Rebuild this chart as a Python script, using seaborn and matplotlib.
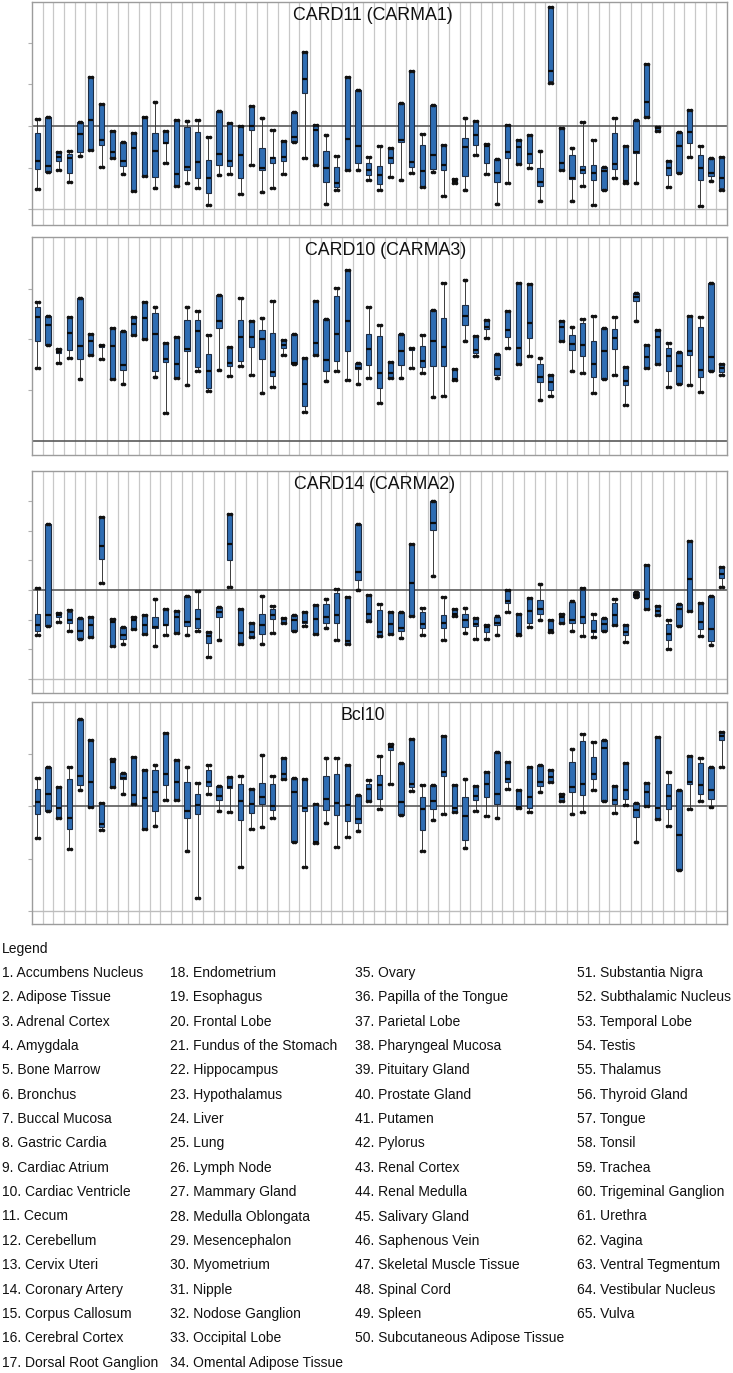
import numpy as np
import pandas as pd
import matplotlib
matplotlib.use("Agg")
import matplotlib.pyplot as plt
import seaborn as sns

# ---------------- data ----------------
tissues = [
    "Accumbens Nucleus", "Adipose Tissue", "Adrenal Cortex", "Amygdala", "Bone Marrow",
    "Bronchus", "Buccal Mucosa", "Gastric Cardia", "Cardiac Atrium", "Cardiac Ventricle",
    "Cecum", "Cerebellum", "Cervix Uteri", "Coronary Artery", "Corpus Callosum",
    "Cerebral Cortex", "Dorsal Root Ganglion", "Endometrium", "Esophagus", "Frontal Lobe",
    "Fundus of the Stomach", "Hippocampus", "Hypothalamus", "Liver", "Lung",
    "Lymph Node", "Mammary Gland", "Medulla Oblongata", "Mesencephalon", "Myometrium",
    "Nipple", "Nodose Ganglion", "Occipital Lobe", "Omental Adipose Tissue", "Ovary",
    "Papilla of the Tongue", "Parietal Lobe", "Pharyngeal Mucosa", "Pituitary Gland", "Prostate Gland",
    "Putamen", "Pylorus", "Renal Cortex", "Renal Medulla", "Salivary Gland",
    "Saphenous Vein", "Skeletal Muscle Tissue", "Spinal Cord", "Spleen", "Subcutaneous Adipose Tissue",
    "Substantia Nigra", "Subthalamic Nucleus", "Temporal Lobe", "Testis", "Thalamus",
    "Thyroid Gland", "Tongue", "Tonsil", "Trachea", "Trigeminal Ganglion",
    "Urethra", "Vagina", "Ventral Tegmentum", "Vestibular Nucleus", "Vulva",
]

panel_titles = ["CARD11 (CARMA1)", "CARD10 (CARMA3)", "CARD14 (CARMA2)", "Bcl10"]

# CARD11 (CARMA1): whisker low, Q1, median, Q3, whisker high
card11_lo = [-1.51, -1.11, -1.06, -1.34, -0.72, -0.58, -0.98, -0.77, -1.15, -1.56,
             -1.20, -1.48, -0.90, -1.44, -1.36, -1.50, -1.89, -1.18, -1.15, -1.63,
             -0.94, -1.58, -1.50, -1.15, -0.38, -0.78, -0.93, -1.87, -1.54, -1.06,
             -1.07, -1.30, -1.55, -1.22, -1.30, -1.12, -1.47, -1.10, -1.68, -1.36,
             -1.54, -0.70, -1.15, -1.87, -1.36, -0.91, -1.02, -1.81, 1.04, -1.07,
             -1.81, -1.44, -1.90, -1.55, -1.26, -1.36, -1.38, 0.22, -0.13, -1.46,
             -1.14, -0.74, -1.92, -1.33, -1.54]
card11_q1 = [-1.04, -1.11, -0.85, -1.12, -0.62, -0.58, -0.46, -0.77, -0.96, -1.56,
             -1.20, -1.22, -0.42, -1.44, -1.06, -1.24, -1.60, -0.93, -0.96, -1.26,
             -0.10, -1.06, -0.90, -0.85, -0.38, 0.80, -0.93, -1.34, -1.47, -1.06,
             -0.90, -1.18, -1.40, -0.88, -0.38, -0.98, -1.47, -1.04, -1.06, -1.36,
             -1.20, -0.46, -0.90, -1.34, -0.77, -0.91, -0.90, -1.44, 1.09, -1.07,
             -1.28, -1.12, -1.30, -1.55, -1.04, -1.36, -0.64, 0.22, -0.13, -1.18,
             -1.14, -0.40, -1.31, -1.20, -1.50]
card11_med = [-0.83, -0.96, -0.74, -0.78, -0.19, 0.14, -0.34, -0.62, -0.83, -0.53,
              0.19, -0.59, -0.40, -1.15, -0.98, -0.86, -1.26, -0.67, -0.83, -0.70,
              0.00, -1.02, -0.78, -0.75, -0.26, 1.14, -0.10, -1.00, -1.38, -0.32,
              -0.48, -1.06, -1.18, -0.78, -0.34, -0.86, -1.09, -0.69, -0.93, -1.32,
              -0.51, -0.21, -0.48, -1.12, -0.62, -0.50, -0.67, -1.34, 1.33, -0.90,
              -1.25, -1.07, -1.14, -1.09, -0.91, -1.33, -0.62, 0.58, -0.06, -1.02,
              -0.48, -0.14, -1.00, -1.14, -1.26]
card11_q3 = [-0.18, 0.22, -0.64, -0.67, 0.10, 1.17, 0.53, -0.12, -0.38, -0.16,
             0.21, -0.16, -0.12, 0.14, -0.02, -0.14, -0.82, 0.36, 0.06, 0.01,
             0.49, -0.54, -0.74, -0.35, 0.34, 1.77, 0.03, -0.59, -0.99, 1.18,
             0.86, -0.90, -0.95, -0.54, 0.56, 1.33, -0.46, 0.50, -0.46, -1.28,
             -0.30, 0.11, -0.43, -0.80, 0.02, -0.34, -0.21, -1.02, 2.85, -0.06,
             -0.69, -0.95, -0.94, -0.99, -0.16, -0.47, 0.14, 1.50, -0.02, -0.84,
             -0.14, 0.38, -0.70, -0.77, -0.74]
card11_hi = [0.16, 0.22, -0.62, -0.60, 0.10, 1.17, 0.53, -0.12, -0.38, -0.16,
             0.21, 0.58, -0.12, 0.14, 0.12, 0.14, -0.27, 0.36, 0.06, 0.01,
             0.49, 0.18, -0.10, -0.35, 0.34, 1.77, 0.03, -0.21, -0.72, 1.18,
             0.86, -0.74, -0.48, -0.54, 0.56, 1.33, -0.19, 0.50, -0.46, -1.28,
             0.18, 0.11, -0.43, -0.80, 0.02, -0.34, -0.21, -0.60, 2.85, -0.06,
             -0.54, 0.10, -0.34, -0.99, 0.19, -0.47, 0.14, 1.50, -0.02, -0.84,
             -0.14, 0.38, -0.48, -0.77, -0.74]

# CARD10 (CARMA3)
card10_lo = [-0.56, -0.11, -0.46, -0.36, -0.79, -0.30, -0.39, -0.78, -0.87, 0.09,
             0.00, -0.74, -1.46, -0.77, -0.89, -0.62, -1.01, -0.61, -0.72, -0.53,
             -0.71, -1.05, -0.93, -0.30, -0.49, -1.43, -0.30, -0.82, -0.62, -0.80,
             -0.87, -0.77, -1.25, -0.76, -0.76, -0.57, -0.66, -1.13, -1.11, -0.80,
             -0.04, -0.33, 0.02, -0.76, -0.16, -0.49, -0.33, -1.20, -1.12, -0.04,
             -0.63, -0.66, -1.05, -0.78, -0.70, -1.30, 0.36, -0.57, -0.49, -0.93,
             -0.87, -0.90, -1.04, -0.63, -0.70]
card10_q1 = [-0.04, -0.11, -0.26, -0.21, -0.39, -0.30, -0.14, -0.78, -0.60, 0.09,
             0.00, -0.63, -0.44, -0.77, -0.22, -0.54, -0.95, 0.23, -0.52, -0.42,
             -0.14, -0.39, -0.72, -0.16, -0.49, -1.31, -0.30, -0.62, -0.42, -0.22,
             -0.58, -0.51, -0.96, -0.76, -0.50, -0.20, -0.54, -0.53, -0.52, -0.80,
             0.28, -0.26, 0.21, -0.70, 0.04, -0.49, 0.03, -0.84, -1.00, -0.04,
             -0.20, -0.33, -0.74, -0.78, -0.18, -0.90, 0.76, -0.57, -0.49, -0.62,
             -0.87, -0.31, -0.74, -0.63, -0.64]
card10_med = [0.45, 0.29, -0.25, 0.13, -0.13, -0.04, -0.13, -0.13, -0.51, 0.30,
              0.42, 0.11, -0.38, -0.49, -0.18, 0.16, -0.63, 0.37, -0.47, 0.05,
              0.05, 0.00, -0.64, -0.12, -0.47, -0.88, -0.08, -0.41, 0.11, 0.37,
              -0.57, -0.18, -0.66, -0.67, -0.22, -0.18, -0.43, -0.03, -0.14, -0.79,
              0.46, -0.21, 0.25, -0.58, 0.18, -0.16, 0.33, -0.75, -0.84, 0.25,
              -0.10, -0.12, -0.49, -0.22, 0.03, -0.82, 0.83, -0.34, 0.04, -0.32,
              -0.53, -0.23, -0.61, -0.34, -0.57]
card10_q3 = [0.64, 0.46, -0.18, 0.45, 0.82, 0.10, -0.11, 0.23, 0.17, 0.45,
             0.74, 0.53, -0.08, 0.05, 0.39, 0.39, -0.29, 0.88, -0.14, 0.38,
             0.36, 0.18, 0.12, -0.01, 0.10, -0.36, 0.76, 0.41, 0.86, 1.37,
             -0.46, 0.10, 0.07, -0.45, 0.10, -0.16, -0.13, 0.58, 0.43, -0.59,
             0.67, 0.07, 0.38, -0.29, 0.57, 1.12, 1.10, -0.49, -0.70, 0.37,
             0.09, 0.33, -0.04, 0.22, 0.21, -0.55, 0.91, -0.12, 0.18, -0.17,
             -0.24, 0.47, 0.24, 1.12, -0.49]
card10_hi = [0.74, 0.46, -0.18, 0.45, 0.82, 0.10, -0.11, 0.23, 0.17, 0.45,
             0.74, 0.63, -0.08, 0.05, 0.64, 0.56, 0.08, 0.88, -0.14, 0.81,
             0.36, 0.43, 0.76, -0.01, 0.10, -0.36, 0.76, 0.41, 1.02, 1.37,
             -0.46, 0.63, 0.29, -0.45, 0.10, -0.16, 0.09, 0.58, 1.12, -0.59,
             1.18, 0.07, 0.38, -0.29, 0.57, 1.12, 1.10, -0.37, -0.70, 0.37,
             0.25, 0.41, 0.46, 0.22, 0.45, -0.55, 0.91, -0.12, 0.18, -0.08,
             -0.24, 0.47, 0.45, 1.12, -0.49]

# CARD14 (CARMA2)
card14_lo = [-1.53, -1.21, -1.08, -1.39, -1.64, -1.58, 0.25, -1.89, -1.84, -1.33,
             -1.47, -1.89, -1.51, -1.44, -1.51, -1.39, -2.25, -1.69, 0.10, -1.81,
             -1.60, -1.82, -1.46, -1.10, -1.38, -1.21, -1.47, -1.28, -1.70, -1.81,
             -0.01, -1.04, -1.57, -1.48, -1.62, -0.88, -1.53, 0.46, -1.70, -0.88,
             -1.46, -1.66, -1.66, -1.53, -0.76, -1.53, -1.24, -1.01, -1.42, -1.12,
             -1.37, -1.57, -1.60, -1.37, -1.19, -1.75, -0.24, -0.63, -0.83, -2.00,
             -1.21, -0.70, -1.57, -1.87, 0.11]
card14_q1 = [-1.38, -1.21, -0.92, -1.10, -1.64, -1.58, 1.06, -1.89, -1.64, -1.33,
             -1.47, -1.28, -1.19, -1.44, -1.21, -1.28, -1.78, -0.91, 1.02, -1.81,
             -1.60, -1.48, -0.97, -1.10, -1.38, -1.10, -1.47, -1.12, -1.10, -1.81,
             0.33, -0.97, -1.57, -1.48, -1.39, -0.88, -1.30, 2.01, -1.28, -0.88,
             -1.26, -1.21, -1.42, -1.17, -0.43, -1.53, -1.12, -0.81, -1.42, -1.12,
             -1.10, -1.10, -1.42, -1.37, -1.19, -1.51, -0.24, -0.63, -0.83, -1.69,
             -1.21, -0.70, -1.33, -1.71, 0.40]
card14_med = [-1.19, -0.85, -0.83, -1.00, -1.37, -1.19, 1.48, -1.08, -1.51, -1.02,
              -1.19, -1.26, -1.17, -0.91, -1.08, -0.97, -1.55, -0.76, 1.54, -1.46,
              -1.42, -1.19, -0.83, -0.99, -1.03, -1.08, -0.97, -0.90, -0.83, -1.72,
              0.61, -0.81, -1.42, -1.15, -1.28, 0.22, -1.15, 2.26, -1.12, -0.80,
              -1.03, -1.15, -1.26, -1.10, -0.38, -1.48, -0.70, -0.63, -1.36, -0.92,
              -1.01, -0.92, -1.38, -1.15, -0.85, -1.42, -0.16, -0.29, -0.70, -1.48,
              -0.63, 0.36, -1.08, -1.33, 0.54]
card14_q3 = [-0.80, 2.24, -0.78, -0.76, -0.94, -0.92, 2.46, -0.97, -1.26, -0.91,
             -0.85, -0.92, -0.65, -0.72, -0.20, -0.63, -1.42, -0.56, 2.57, -0.65,
             -1.10, -0.81, -0.63, -0.94, -0.85, -0.74, -0.52, -0.46, -0.09, -0.22,
             2.24, -0.16, -0.67, -0.74, -0.74, 1.55, -0.75, 3.01, -0.85, -0.64,
             -0.81, -0.97, -1.17, -0.90, 0.01, -0.81, -0.27, -0.33, -1.00, -0.82,
             -0.40, -0.01, -1.03, -0.94, -0.43, -1.19, -0.07, 0.83, -0.54, -1.15,
             -0.47, 1.64, -0.43, -0.20, 0.79]
card14_hi = [0.08, 2.24, -0.78, -0.69, -0.94, -0.92, 2.46, -0.97, -1.26, -0.91,
             -0.85, -0.31, -0.65, -0.72, -0.20, -0.04, -1.42, -0.56, 2.57, -0.65,
             -1.10, -0.20, -0.55, -0.94, -0.85, -0.74, -0.52, -0.29, 0.04, -0.22,
             2.24, -0.16, -0.49, -0.74, -0.74, 1.55, -0.60, 3.01, -0.24, -0.64,
             -0.60, -0.94, -1.17, -0.88, 0.01, -0.81, -0.27, 0.20, -1.00, -0.82,
             -0.36, 0.07, -0.80, -0.94, -0.29, -1.19, -0.07, 0.83, -0.54, -1.03,
             -0.47, 1.64, -0.43, -0.20, 0.79]

# Bcl10
bcl10_lo = [-0.61, -0.09, -0.22, -0.82, 0.31, -0.02, -0.46, 0.36, 0.23, 0.04,
            -0.43, -0.38, 0.12, 0.11, -0.85, -1.75, 0.24, -0.10, -0.11, -1.17,
            -0.43, -0.39, -0.22, 0.52, -0.68, -1.17, -0.71, -0.33, -0.77, -0.59,
            -0.48, 0.10, -0.06, 0.42, -0.17, 0.29, -0.85, -0.27, -0.14, -0.11,
            -0.79, -0.09, -0.19, -0.22, 0.32, -0.03, -0.11, 0.28, 0.46, 0.10,
            -0.15, -0.11, 0.31, 0.09, -0.13, 0.03, -0.68, 0.01, -0.25, -0.38,
            -1.22, -0.06, 0.10, -0.01, 0.75]
bcl10_q1 = [-0.15, -0.09, -0.22, -0.43, 0.41, -0.02, -0.39, 0.36, 0.51, 0.04,
            -0.43, -0.10, 0.41, 0.11, -0.22, -0.15, 0.38, 0.11, 0.34, -0.27,
            -0.13, 0.04, -0.07, 0.52, -0.68, -0.09, -0.71, -0.07, -0.17, -0.28,
            -0.32, 0.10, 0.13, 1.08, -0.17, 0.37, -0.45, -0.06, 0.57, -0.11,
            -0.65, 0.11, 0.17, 0.05, 0.47, -0.03, -0.04, 0.38, 0.46, 0.10,
            0.27, 0.22, 0.51, 0.09, 0.05, 0.13, -0.20, 0.01, -0.25, -0.06,
            -1.22, 0.42, 0.24, 0.13, 1.26]
bcl10_med = [0.08, 0.24, -0.03, -0.23, 0.57, 0.47, -0.34, 0.84, 0.54, 0.22,
             0.15, 0.27, 0.61, 0.47, -0.09, 0.03, 0.46, 0.20, 0.36, 0.10,
             0.05, 0.18, 0.01, 0.61, 0.28, -0.03, -0.68, 0.14, 0.06, 0.03,
             -0.25, 0.33, 0.41, 1.14, 0.08, 0.42, -0.05, 0.10, 0.66, -0.04,
             -0.18, 0.19, 0.42, 0.23, 0.51, -0.01, 0.17, 0.46, 0.56, 0.18,
             0.36, 0.43, 0.62, 1.12, 0.11, 0.31, -0.08, 0.27, -0.04, 0.19,
             -0.55, 0.47, 0.41, 0.31, 1.34]
bcl10_q3 = [0.33, 0.74, 0.37, 0.52, 1.66, 1.27, 0.06, 0.90, 0.64, 0.94,
            0.70, 0.70, 1.39, 0.88, 0.46, 0.24, 0.69, 0.39, 0.55, 0.42,
            0.33, 0.45, 0.42, 0.92, 0.54, 0.52, 0.05, 0.57, 0.61, 0.78,
            0.22, 0.42, 0.59, 1.18, 0.82, 1.29, 0.17, 0.41, 1.34, 0.41,
            0.17, 0.38, 0.66, 1.04, 0.85, 0.31, 0.74, 0.79, 0.70, 0.24,
            0.84, 1.25, 0.94, 1.27, 0.39, 0.82, 0.06, 0.45, 1.32, 0.42,
            0.31, 0.96, 0.83, 0.75, 1.41]
bcl10_hi = [0.54, 0.74, 0.37, 0.75, 1.66, 1.27, 0.06, 0.90, 0.64, 0.94,
            0.70, 0.79, 1.39, 0.88, 0.74, 0.44, 0.79, 0.39, 0.55, 0.57,
            0.33, 0.97, 0.57, 0.92, 0.54, 0.52, 0.05, 0.92, 0.92, 0.78,
            0.22, 0.50, 0.96, 1.18, 0.82, 1.29, 0.41, 0.41, 1.34, 0.41,
            0.52, 0.38, 0.66, 1.04, 0.85, 0.31, 0.74, 0.79, 0.70, 0.24,
            1.10, 1.38, 1.22, 1.27, 0.39, 0.82, 0.06, 0.45, 1.32, 0.65,
            0.31, 0.96, 0.92, 0.75, 1.41]

panel_data = [
    (card11_lo, card11_q1, card11_med, card11_q3, card11_hi),
    (card10_lo, card10_q1, card10_med, card10_q3, card10_hi),
    (card14_lo, card14_q1, card14_med, card14_q3, card14_hi),
    (bcl10_lo, bcl10_q1, bcl10_med, bcl10_q3, bcl10_hi),
]

# ---------------- style ----------------
sns.set_style("white")
plt.rcParams["font.family"] = ["Liberation Sans", "DejaVu Sans"]

W, H = 733, 1373
fig = plt.figure(figsize=(W / 100, H / 100), dpi=100)

box_color = "#2F6DB3"
edge_color = "#1c2c44"

# layout per panel: top px, bottom px, ylim, dark line, light line, ticks, title x
layout = [
    (2, 225, (-2.38, 2.98), 0, -2, [-2, -1, 0, 1, 2], 373),
    (237, 455, (-2.28, 2.02), -2, None, [-1, 0, 1], 386),
    (471, 693, (-3.48, 4.02), 0, -3, [-3, -2, -1, 0, 1, 2, 3], 375),
    (702, 924, (-2.25, 1.99), 0, -2, [-2, -1, 0, 1], 363),
]

n = len(tissues)
for (top, bot, ylim, dark, light, ticks, tx), title, arrs in zip(layout, panel_titles, panel_data):
    ax = fig.add_axes([32 / W, 1 - bot / H, 695 / W, (bot - top) / H])
    recs = []
    for i in range(n):
        for a in arrs:
            recs.append((i + 1, a[i]))
    df = pd.DataFrame(recs, columns=["tissue", "value"])
    sns.boxplot(
        data=df, x="tissue", y="value", order=list(range(1, n + 1)), ax=ax,
        whis=(0, 100), width=0.5, color=box_color, saturation=1, fliersize=0,
        linewidth=0.8,
        boxprops=dict(facecolor=box_color, edgecolor=edge_color, linewidth=0.8),
        medianprops=dict(color="#0a0a0a", linewidth=1.6),
        whiskerprops=dict(color="#3a3a3a", linewidth=0.7),
        capprops=dict(color="#111111", linewidth=1.4, marker="o", markersize=1.6),
    )
    ax.set_xlim(-0.5, n - 0.5)
    ax.set_ylim(*ylim)
    ax.set_xlabel("")
    ax.set_ylabel("")
    ax.set_xticks([])
    ax.set_xticks(np.arange(0.5, n - 1, 1), minor=True)
    ax.tick_params(axis="x", which="minor", length=0)
    ax.grid(which="minor", axis="x", color="#c8c8c8", linewidth=0.9)
    ax.set_axisbelow(True)
    ax.set_yticks(ticks)
    ax.set_yticklabels([])
    ax.tick_params(axis="y", which="major", length=3, color="#b0b0b0", width=0.8, left=True)
    ax.axhline(dark, color="#5a5a5a", linewidth=1.2, zorder=1.5)
    if light is not None:
        ax.axhline(light, color="#bdbdbd", linewidth=1.0, zorder=1.5)
    for s in ax.spines.values():
        s.set_color("#9c9c9c")
        s.set_linewidth(1.0)
    fig.text(tx / W, 1 - (top + 18) / H, title, ha="center", va="baseline",
             fontsize=12.8, color="#111111")

# ---------------- legend text ----------------
fig.text(2 / W, 1 - 953 / H, "Legend", ha="left", va="baseline", fontsize=10, color="#111111")
col_x = [2, 170, 355, 577]
col_ranges = [(0, 17), (17, 34), (34, 50), (50, 65)]
for cx, (a, b) in zip(col_x, col_ranges):
    for r, k in enumerate(range(a, b)):
        y = 977 + r * 24.35
        fig.text(cx / W, 1 - y / H, f"{k + 1}. {tissues[k]}", ha="left", va="baseline",
                 fontsize=10, color="#111111")

fig.savefig("out.png", dpi=100, facecolor="white")
